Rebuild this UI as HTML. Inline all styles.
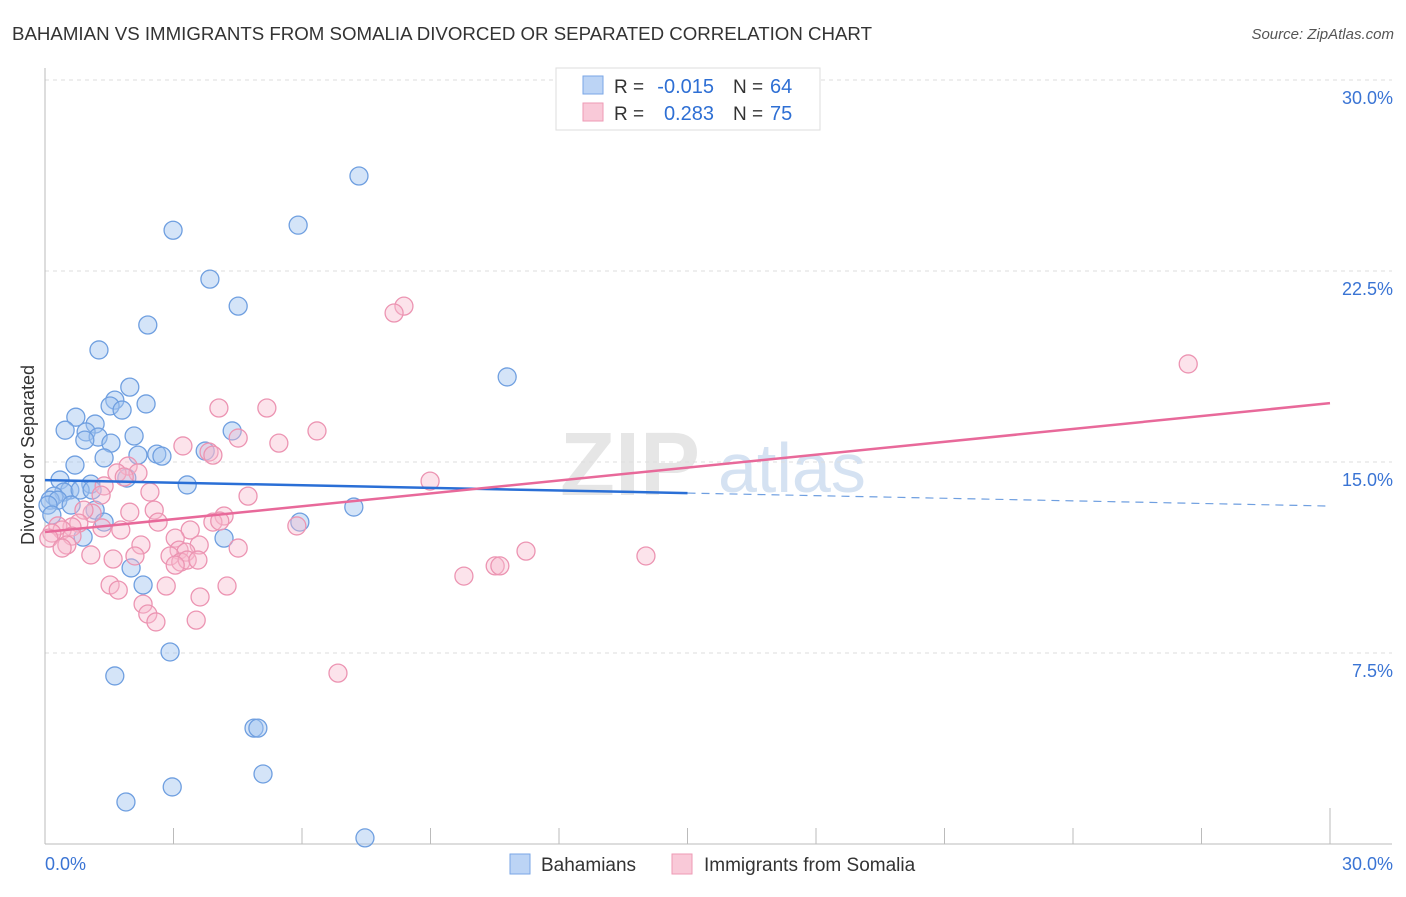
<!DOCTYPE html>
<html><head><meta charset="utf-8"><style>
body{margin:0;background:#fff;font-family:"Liberation Sans",sans-serif;}
svg text{font-family:"Liberation Sans",sans-serif;}
</style></head><body>
<svg id="chart" width="1406" height="892" viewBox="0 0 1406 892">
<text x="12" y="40" font-size="18" fill="#333" textLength="860" lengthAdjust="spacingAndGlyphs">BAHAMIAN VS IMMIGRANTS FROM SOMALIA DIVORCED OR SEPARATED CORRELATION CHART</text>
<text x="1394" y="39" font-size="15" fill="#555" text-anchor="end" font-style="italic">Source: ZipAtlas.com</text>
<text x="560" y="495" font-size="90" fill="#e6e6e6" font-family="Liberation Serif" font-weight="bold">ZIP</text>
<text x="718" y="492" font-size="70" fill="#d5e2f2">atlas</text>
<g id="grid"></g><g id="axes"></g><g id="pts"></g><g id="trend"></g>
<text transform="translate(34,455) rotate(-90)" font-size="18" fill="#333" text-anchor="middle">Divorced or Separated</text>
<g>
<rect x="556" y="68" width="264" height="62" fill="#fff" stroke="#ddd"/>
<rect x="583" y="76" width="20" height="18" fill="#bcd4f5" stroke="#7aa6e6"/>
<rect x="583" y="103" width="20" height="18" fill="#f9c9d8" stroke="#ee9ab5"/>
<text x="614" y="93" font-size="19" fill="#333">R =</text>
<text x="714" y="93" font-size="20" fill="#2e6fd4" text-anchor="end">-0.015</text>
<text x="733" y="93" font-size="19" fill="#333">N =</text>
<text x="770" y="93" font-size="20" fill="#2e6fd4">64</text>
<text x="614" y="120" font-size="19" fill="#333">R =</text>
<text x="714" y="120" font-size="20" fill="#2e6fd4" text-anchor="end">0.283</text>
<text x="733" y="120" font-size="19" fill="#333">N =</text>
<text x="770" y="120" font-size="20" fill="#2e6fd4">75</text>
</g>
<g>
<rect x="510" y="854" width="20" height="20" fill="#bcd4f5" stroke="#7aa6e6"/>
<text x="541" y="871" font-size="19" fill="#333">Bahamians</text>
<rect x="672" y="854" width="20" height="20" fill="#f9c9d8" stroke="#ee9ab5"/>
<text x="704" y="871" font-size="19" fill="#333">Immigrants from Somalia</text>
</g>
</svg>
<script>
const yTicks=[7.5,15,22.5,30];
const yTickLabels=["7.5%","15.0%","22.5%","30.0%"];
const xTicks=[0,3,6,9,12,15,18,21,24,27,30];
const blueX=[7.33,2.99,5.91,3.85,4.51,2.40,1.26,10.79,1.98,1.63,2.36,1.52,1.80,0.72,1.17,0.47,0.96,1.24,0.93,2.08,1.54,4.37,1.38,2.17,2.61,2.73,3.74,0.70,0.35,1.91,3.32,1.07,0.58,0.44,0.21,0.12,0.30,0.82,0.61,1.17,1.38,7.21,5.95,0.89,4.18,2.01,2.29,2.92,1.63,4.88,4.97,5.09,2.97,1.89,7.47,0.07,0.16,1.10];
const blueY=[26.23,24.1,24.3,22.18,21.12,20.38,19.4,18.34,17.94,17.43,17.28,17.2,17.04,16.76,16.49,16.25,16.18,15.98,15.86,16.02,15.74,16.22,15.16,15.27,15.31,15.23,15.43,14.88,14.29,14.37,14.1,14.13,13.9,13.82,13.66,13.5,13.5,13.9,13.31,13.11,12.64,13.23,12.64,12.05,12.01,10.84,10.17,7.54,6.6,4.55,4.55,2.75,2.24,1.65,0.24,13.31,12.92,13.9];
const pinkX=[8.38,8.15,26.69,4.06,5.18,6.35,4.51,5.46,3.22,3.83,3.92,1.94,1.68,2.17,1.85,8.99,1.38,2.45,1.31,4.74,2.55,1.98,1.10,0.91,4.18,3.92,4.08,2.64,5.88,0.79,0.63,0.30,0.40,1.77,1.33,3.39,0.63,0.16,0.09,3.04,3.6,0.51,2.24,4.51,0.40,3.13,3.29,11.23,14.03,2.1,2.92,1.07,3.17,3.32,3.57,1.59,3.04,10.51,10.62,9.78,1.52,2.83,4.25,1.71,3.62,2.29,2.40,2.59,3.53,6.84];
const pinkY=[21.12,20.85,18.85,17.12,17.12,16.22,15.94,15.74,15.63,15.39,15.27,14.84,14.57,14.57,14.41,14.25,14.06,13.82,13.7,13.66,13.11,13.03,12.99,13.11,12.88,12.64,12.68,12.64,12.49,12.6,12.45,12.49,12.33,12.33,12.41,12.33,12.09,12.21,12.01,12.01,11.74,11.74,11.74,11.62,11.62,11.54,11.46,11.5,11.31,11.31,11.31,11.35,11.07,11.15,11.15,11.19,10.95,10.92,10.92,10.52,10.17,10.13,10.13,9.97,9.7,9.42,9.03,8.72,8.79,6.71];
const blueTrend=[14.29,13.27];
const pinkTrend=[12.25,17.31];
const NS="http://www.w3.org/2000/svg";
const X0=45,X1=1330,Y0=844,Y1=80;
const sx=v=>X0+(X1-X0)*v/30, sy=v=>Y0-(Y0-Y1)*v/30;
function mk(t,a,p){const e=document.createElementNS(NS,t);for(const k in a)e.setAttribute(k,a[k]);document.getElementById(p).appendChild(e);return e;}
yTicks.forEach((t,i)=>{
 const l=mk('line',{x1:X0,x2:1392,y1:sy(t),y2:sy(t),stroke:'#ddd','stroke-dasharray':'4,4'},'grid');
 
 
 const tx=mk('text',{x:1393,y:sy(t)+24,'font-size':18,fill:'#3a74d4','text-anchor':'end'},'grid');
 tx.textContent=yTickLabels[i];
 
 
});
const ax=mk('line',{x1:X0,x2:1392,y1:Y0,y2:Y0,stroke:'#bbb'},'axes');


const ay=mk('line',{x1:X0,x2:X0,y1:68,y2:Y0,stroke:'#bbb'},'axes');


xTicks.forEach(t=>{
 const l=mk('line',{x1:sx(t),x2:sx(t),y1:Y0,y2:t==30?Y0-36:Y0-16,stroke:'#bbb'},'axes');
 
 
});
const xl0=mk('text',{x:45,y:870,'font-size':18,fill:'#3a74d4'},'axes');xl0.textContent='0.0%';


const xl1=mk('text',{x:1393,y:870,'font-size':18,fill:'#3a74d4','text-anchor':'end'},'axes');xl1.textContent='30.0%';


blueX.forEach((v,i)=>{
 const c=mk('circle',{cx:sx(v),cy:sy(blueY[i]),r:9,fill:'rgba(160,195,240,0.45)',stroke:'#6f9fe0','stroke-width':1.3},'pts');
 
 
});
pinkX.forEach((v,i)=>{
 const c=mk('circle',{cx:sx(v),cy:sy(pinkY[i]),r:9,fill:'rgba(248,185,205,0.4)',stroke:'#ec94b2','stroke-width':1.3},'pts');
 
 
});
const bAt=x=>blueTrend[0]+(blueTrend[1]-blueTrend[0])*x/30;
const b1=mk('line',{x1:sx(0),y1:sy(bAt(0)),x2:sx(15),y2:sy(bAt(15)),stroke:'#2a6fd6','stroke-width':2.5},'trend');


const b2=mk('line',{x1:sx(15),y1:sy(bAt(15)),x2:sx(30),y2:sy(bAt(30)),stroke:'#6f9fe0','stroke-width':1.2,'stroke-dasharray':'8,6'},'trend');


const p1=mk('line',{x1:sx(0),y1:sy(pinkTrend[0]),x2:sx(30),y2:sy(pinkTrend[1]),stroke:'#e8699a','stroke-width':2.5},'trend');


</script>
</body></html>
